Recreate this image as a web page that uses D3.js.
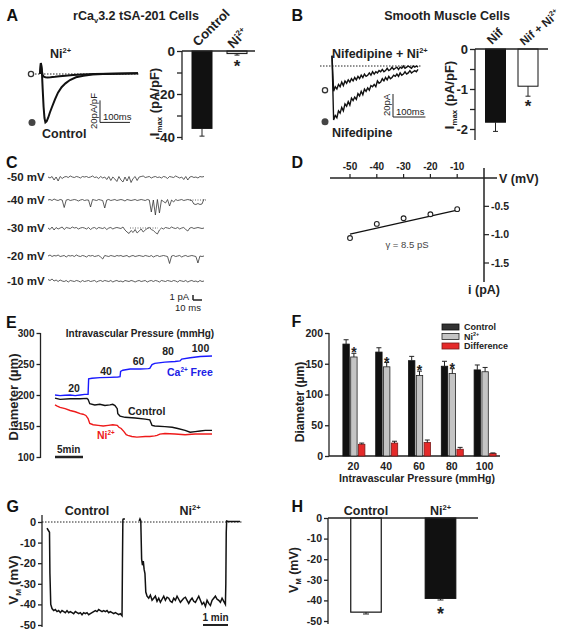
<!DOCTYPE html>
<html><head><meta charset="utf-8">
<script src="https://cdn.jsdelivr.net/npm/d3@7"></script>
<style>
body{margin:0;background:#fff}
svg{display:block}
text{font-family:"Liberation Sans",Arial,Helvetica,sans-serif}
</style>
</head><body>
<svg id="c" width="562" height="635"></svg>
<script>
// ---------------- DATA ----------------
// A: rCav3.2 whole-cell currents (ms, pA/pF) and Imax bars
const aCats = ["Control", "Ni"];
const aImax = [-36, -1.2];
const aImaxErr = [3.6, 0.7];
const aCtrlT = [0, 3, 6, 9, 12, 15, 18, 22, 27, 33, 40, 50, 60, 72, 85, 100, 120, 145, 175, 210, 250, 290, 327];
const aCtrlI = [0, 10, 4, -14, -30, -40, -44, -43, -40, -35, -30, -23, -17, -12, -8.5, -5.5, -3, -1.5, -0.5, 0, 0.3, 0.5, 0.6];
const aNiT = [0, 3, 6, 9, 13, 18, 25, 35, 50, 65, 85, 110, 140, 180, 230, 280, 327];
const aNiI = [0, 10, 3, -1, -2.5, -3, -3.2, -3, -2.6, -2.1, -1.5, -1, -0.5, 0, 0.3, 0.5, 0.6];

// B: smooth muscle currents (pA, one sample every 5 ms) and Imax bars
const bCats = ["Nif", "NifNi"];
const bImax = [-1.83, -0.93];
const bImaxErr = [0.23, 0.25];
const bSampleMs = 5;
const bNif = [9, -47, -43, -45, -39, -41, -36, -39, -33, -35, -31, -34, -28, -30, -27, -29, -24, -26, -22, -25, -20, -22, -19, -21, -17, -18, -16, -18, -13, -15, -14, -11, -13, -10, -12, -9, -11, -10, -8, -9, -7, -9, -6, -8, -7, -5, -7, -6, -4, -6, -5, -4, -5, -3];
const bNifNi = [9, -22, -18, -20, -16, -18, -14, -17, -13, -15, -12, -14, -11, -13, -10, -12, -9, -11, -8, -10, -7, -9, -8, -6, -8, -5, -7, -5, -6, -4, -5, -3, -5, -4, -2, -4, -3, -1, -3, -2, -1, -3, -1, -2, 0, -2, -1, 0, -1, -2, 0, -1, 0, -1];

// C: single-channel traces (pA), one sample per step
const cLabels = ["-50 mV", "-40 mV", "-30 mV", "-20 mV", "-10 mV"];
const cTraces = [
  [0,-0.2,0.1,-0.6,0,-0.8,0.1,-0.3,0,0.1,-0.1,0.2,0,-0.1,0.1,0,-0.2,0.1,0,0.1,-0.1,0,0.2,-0.1,0,-0.3,0.1,-0.2,0,-0.5,0.1,-0.7,0,-0.4,-0.9,0.1,-0.6,-1,0,-0.8,0.1,-1.1,-0.3,0.1,-0.7,0,0.1,0.2,-0.1,0,0.1,-0.2,0,0.1,-0.1,0,-0.2,0.1,0,-0.3,0.1,0,-0.1,0.2,0,-0.2,0,-0.5,0.1,-0.6,0,0.1,-0.1,0,-0.2,0.1,0,0.1],
  [0,0.1,-0.1,0.2,0,-0.1,0.1,0,-1.5,0,0.1,-0.1,0,0.1,0,-0.2,0,0.1,-0.1,0,0,-1.4,0.1,0,-0.1,0.1,0,-0.1,-1.6,0,0.1,-0.1,0,0.1,-0.1,0,0.1,0,-0.2,0.1,0,-0.1,0,0.1,-0.1,0,0.1,0,-0.1,0.1,0,-2.4,0,-3,0.1,-2.6,0,-0.3,-0.6,0.1,-1.2,0,-0.4,0.1,-0.1,0,0.1,-0.1,0,0.1,0,-0.1,-0.8,-0.9,-0.7,-0.9,-0.8,0.2],
  [0,-0.3,0.2,-0.4,0.1,-0.2,0,0.2,-0.3,0.1,0,-0.1,0.2,0,0.1,-0.2,0,0.1,0,-0.2,0.1,-0.3,0,0.1,-0.2,0.1,0,-0.1,0.1,-0.3,0,0.1,-0.2,0,0.1,0,-0.1,0.2,-0.4,-0.8,-1.1,-0.5,-0.9,-0.3,-1,-0.6,-0.2,-0.8,-0.4,-0.1,0.1,-0.3,-0.5,-0.9,-1.2,-0.4,0,-0.2,0.1,0,-0.1,0.2,0,-0.1,0.1,-0.2,0,0.1,-0.3,-0.6,0,0.1,-0.1,0,0.1,0,-0.1,0],
  [0,0.2,-0.1,0.1,0,0.2,-0.1,0,0.1,-0.2,0.1,0,0.1,-0.1,0.2,0,-0.1,0.1,0,-0.2,0.1,0,0.1,-0.1,0,0.1,-0.2,-0.6,0.1,0,-0.1,0.1,0,-0.1,0.1,0,0.1,-0.1,0,0.1,-0.2,0,0.1,-0.1,0,0.1,0,-0.1,0.1,0,-0.1,0.1,-0.2,0,0.1,-0.1,0,0.1,0,-0.1,-1.5,0,0.1,-0.1,0,0.1,-0.2,0,0.1,-0.1,0,0.1,0,-0.1,-1.4,0,-0.1,0],
  [0.3,0.1,0.4,0,0.2,-0.1,0.2,0,-0.1,0.1,-0.2,0.1,0,-0.1,0.1,0,-0.2,0.1,-0.1,0,0.1,-0.1,0,0.1,-0.2,0,0.1,-0.1,0.1,0,-0.1,0.1,-0.2,0,0.1,-0.1,0,-0.2,0.1,0,-0.1,0.1,0,-0.2,0,0.1,-0.1,0,0.1,-0.2,0,0.1,-0.1,0.1,0,-0.2,0.1,0,-0.1,0.1,0,-0.1,0.1,0,-0.2,0.1,0,-0.1,0.1,-0.2,0,0.1,-0.1,0,-0.2,0.1,-0.1,0]
];

// D: unitary current-voltage
const dTicksV = [-50, -40, -30, -20, -10];
const dTicksI = [-0.5, -1.0, -1.5];
const dV = [-50, -40, -30, -20, -10];
const dI = [-1.06, -0.81, -0.71, -0.64, -0.55];
const dFitV = [-50, -10];
const dFitI = [-0.99, -0.565];

// E: diameter vs time (min, µm)
const eTicks = [100, 150, 200, 250, 300];
const ePressLabels = ["20", "40", "60", "80", "100"];
const eCaT = [0,0.9,1.8,2.7,3.6,4.5,5.3,5.9,6.0,6.6,8.0,9.8,11.2,11.6,11.7,12.1,13.4,15.2,16.6,16.9,17.3,17.8,19.6,21.4,22.3,22.6,24.1,25.9,28];
const eCaD = [200,199,199.5,200,199,200,201,201,226,227,228,228.5,229,229.5,238,240,242,242,242.5,243,249,251,253,254,255,258,260,262,263];
const eCtrlT = [0,0.9,2.7,4.5,5.7,5.9,6.2,7.1,8.0,8.9,9.8,10.3,10.7,11.1,11.2,11.6,12.5,14.3,16.1,16.9,17.3,17.8,19.6,20.9,21.9,23.2,24.1,25.0,25.9,26.8,28];
const eCtrlD = [195,193,194,194,194.5,193,186,184,185,183,184,185,183,178,170,166,164,163,161,160,151,150,149,148,146,143,140,141,142,143,143];
const eNiT = [0,0.4,0.9,1.8,2.7,3.6,4.5,5.0,5.5,5.9,6.2,6.8,7.7,8.6,9.5,10.3,11.1,11.4,11.8,12.3,12.7,13.0,13.7,14.6,16.1,16.9,17.8,18.2,18.7,19.6,21.4,23.2,25.0,26.8,28];
const eNiD = [184,182,180,178,175,173,170,169,167,162,154,152,151,150,151,152,151,148,146,141,136,135,133,132,133,133,134,135,137,138,137,136,137,137,137];

// F: diameter bars
const fPress = ["20", "40", "60", "80", "100"];
const fTicks = [0, 50, 100, 150, 200];
const fCtrl = [182, 169, 155, 146, 140];
const fCtrlErr = [7, 7, 7, 8, 8];
const fNi = [161, 145, 131, 134, 137];
const fNiErr = [6, 7, 7, 8, 7];
const fDiff = [19, 21, 22, 11, 4];
const fDiffErr = [2, 3, 4, 3, 1];
const fSig = [true, true, true, true, false];

// G: membrane potential recordings (s, mV)
const gTicks = [0, -10, -20, -30, -40, -50];
const gSampleSec = 4;
const gCtrlStartT = [12, 15, 18, 19, 21];
const gCtrlStartV = [-3, -4, -5, -25, -40];
const gCtrlPlatT0 = 24;
const gCtrlPlat = [-42,-43,-42.5,-43.5,-43,-44,-43,-43.5,-44,-43,-44,-43.5,-44,-44.5,-43.5,-44,-44.5,-44,-45,-44,-44.5,-44,-45,-44.5,-44,-43.5,-43,-43.5,-42.5,-43,-43.5,-43,-43.5,-43,-44,-43.5,-44,-44.5,-44,-44.5,-45,-44.5,-45.5];
const gCtrlEndT = [193, 194, 195, 199];
const gCtrlEndV = [-20, 1, 1.5, 1.5];
const gNiStartT = [233, 235, 237, 239, 241, 243, 245, 247, 249];
const gNiStartV = [0.5, 1.5, 0.5, -18, -21, -19, -23, -25, -34];
const gNiPlatT0 = 252;
const gNiPlat = [-36,-37,-35.5,-38,-37,-36,-38.5,-37,-39,-37.5,-36,-38,-36.5,-37,-38.5,-39,-37,-38,-36,-37.5,-39,-38,-37,-36.5,-38,-39.5,-38,-37,-38.5,-39,-37.5,-36,-38,-40,-39,-41,-38,-39.5,-40.5,-38,-37,-36,-37.5,-38,-39,-37,-38.5,-40];
const gNiEndT = [441, 442, 443, 447, 475];
const gNiEndV = [-30, -5, 0.5, 0.3, 0.3];

// H: membrane potential bars
const hCats = ["Control", "Ni"];
const hTicks = [0, -10, -20, -30, -40, -50];
const hVm = [-45.7, -39];
const hVmErr = [0.9, 0.8];

// ---------------- DRAWING ----------------
const svg = d3.select("#c");
svg.append("rect").attr("width", 562).attr("height", 635).attr("fill", "#fff");
const INK = "#222";
const FONT = '"Liberation Sans", Arial, Helvetica, sans-serif';

function text(x, y, parts, o = {}) {
  const size = o.size || 12;
  const t = svg.append("text").attr("x", x).attr("y", y)
    .attr("font-size", size).attr("font-weight", o.weight || "bold")
    .attr("text-anchor", o.anchor || "start").attr("fill", o.fill || INK);
  if (o.rotate !== undefined) t.attr("transform", `rotate(${o.rotate},${x},${y})`);
  if (typeof parts === "string") parts = [[parts]];
  parts.forEach(([s, k]) => {
    const ts = t.append("tspan").text(s);
    if (k === "sup") ts.attr("font-size", size * 0.6).attr("baseline-shift", (size * 0.42) + "px");
    if (k === "sub") ts.attr("font-size", size * 0.6).attr("baseline-shift", (-size * 0.2) + "px");
  });
  return t;
}
function line(x1, y1, x2, y2, o = {}) {
  const l = svg.append("line").attr("x1", x1).attr("y1", y1).attr("x2", x2).attr("y2", y2)
    .attr("stroke", o.stroke || INK).attr("stroke-width", o.w || 1.3);
  if (o.dash) l.attr("stroke-dasharray", o.dash);
  return l;
}
function yAxis(x, scale, ticks, labeled, y0, y1, size, tick = 4) {
  const g = svg.append("g").attr("transform", `translate(${x},0)`)
    .call(d3.axisLeft(scale).tickValues(ticks).tickSize(tick).tickSizeOuter(0).tickPadding(2)
      .tickFormat(d => labeled.includes(d) ? String(d) : ""));
  g.select(".domain").remove();
  g.selectAll("line").attr("stroke", INK).attr("stroke-width", 1.3);
  g.selectAll("text").attr("font-size", size).attr("font-weight", "bold")
    .attr("font-family", FONT).attr("fill", INK);
  line(x, y0, x, y1);
}
function errBar(x, yFrom, yTo, cap = 3) {
  line(x, yFrom, x, yTo, { w: 1 });
  line(x - cap, yTo, x + cap, yTo, { w: 1 });
}
const pathLine = (xs, ys) => d3.line().x((d, i) => xs[i]).y((d, i) => ys[i])(xs);

// Panel letters
[["A", 6.5, 20.5], ["B", 291.5, 20.5], ["C", 6, 167.5], ["D", 291.5, 167.5],
 ["E", 6, 327.5], ["F", 291.5, 327], ["G", 6.5, 512], ["H", 291.5, 512]]
  .forEach(([s, x, y]) => text(x, y, s, { size: 16, fill: "#111" }));

// ===== Panel A =====
text(136, 20, [["rCa"], ["v", "sub"], ["3.2 tSA-201 Cells"]], { size: 12.5, anchor: "middle" });
{
  const xT = d3.scaleLinear().domain([0, 327]).range([40, 138]);
  const yT = d3.scaleLinear().domain([0, -20]).range([74, 96]);
  line(35, yT(0), 140, yT(0), { w: 1, dash: "1.5,1.5" });
  svg.append("path").attr("d", pathLine(aNiT.map(xT), aNiI.map(yT))).attr("fill", "none").attr("stroke", "#111").attr("stroke-width", 2);
  svg.append("path").attr("d", pathLine(aCtrlT.map(xT), aCtrlI.map(yT))).attr("fill", "none").attr("stroke", "#111").attr("stroke-width", 2);
  svg.append("circle").attr("cx", 31).attr("cy", yT(0)).attr("r", 2.6).attr("fill", "#fff").attr("stroke", "#333").attr("stroke-width", 1.3);
  svg.append("circle").attr("cx", 32).attr("cy", yT(-44)).attr("r", 3.5).attr("fill", "#444");
  text(50, 58, [["Ni"], ["2+", "sup"]], { size: 12.5 });
  text(42, 138, "Control", { size: 12.5 });
  // scale bar 20 pA/pF, 100 ms
  const sbY = yT(-44);
  line(100, sbY - (yT(-20) - yT(0)), 100, sbY, { w: 1 });
  line(100, sbY, 100 + (xT(100) - xT(0)), sbY, { w: 1 });
  text(97, 111, "20pA/pF", { size: 9.5, weight: "normal", anchor: "middle", rotate: -90 });
  text(103, 120, "100ms", { size: 9.5, weight: "normal" });

  const yA = d3.scaleLinear().domain([0, -40]).range([51, 137]);
  const xA = d3.scalePoint().domain(aCats).range([202, 237]);
  yAxis(182, yA, [0, -10, -20, -30, -40], [0, -20, -40], 51, 140, 13.5, 5);
  const bw = 20;
  aCats.forEach((c, i) => {
    const x = xA(c);
    svg.append("rect").attr("x", x - bw / 2).attr("y", yA(0)).attr("width", bw)
      .attr("height", yA(aImax[i]) - yA(0))
      .attr("fill", i === 0 ? "#111" : "#ddd").attr("stroke", "#111").attr("stroke-width", 1);
    errBar(x, yA(aImax[i]), yA(aImax[i] - aImaxErr[i]), 2.5);
  });
  line(182, yA(0), 255, yA(0));
  text(xA("Control") - 4, 47, "Control", { size: 13, rotate: -45 });
  text(xA("Ni") - 4, 49, [["Ni"], ["2+", "sup"]], { size: 13, rotate: -45 });
  text(xA("Ni"), 72, "*", { size: 17, anchor: "middle" });
  text(159, 102, [["I"], ["max", "sub"], [" (pA/pF)"]], { size: 13, anchor: "middle", rotate: -90 });
}

// ===== Panel B =====
text(447, 20, "Smooth Muscle Cells", { size: 12.5, anchor: "middle" });
{
  const xT = d3.scaleLinear().domain([0, 265]).range([332, 418]);
  const yT = d3.scaleLinear().domain([0, -20]).range([66, 89]);
  const ts = bNif.map((d, i) => i * bSampleMs);
  line(320, yT(0), 422, yT(0), { w: 1, dash: "1.5,1.5" });
  svg.append("path").attr("d", pathLine(ts.map(xT), bNifNi.map(yT))).attr("fill", "none").attr("stroke", "#111").attr("stroke-width", 1.4);
  svg.append("path").attr("d", pathLine(ts.map(xT), bNif.map(yT))).attr("fill", "none").attr("stroke", "#111").attr("stroke-width", 1.4);
  svg.append("circle").attr("cx", 325).attr("cy", yT(-21)).attr("r", 2.6).attr("fill", "#fff").attr("stroke", "#333").attr("stroke-width", 1.3);
  svg.append("circle").attr("cx", 325).attr("cy", yT(-48.5)).attr("r", 3.5).attr("fill", "#444");
  text(332, 58, [["Nifedipine + Ni"], ["2+", "sup"]], { size: 12.5 });
  text(332, 137, "Nifedipine", { size: 12.5 });
  line(393, 94, 393, 94 + (yT(-20) - yT(0)), { w: 1 });
  line(393, 117, 393 + (xT(100) - xT(0)), 117, { w: 1 });
  text(390, 105, "20pA", { size: 9.5, weight: "normal", anchor: "middle", rotate: -90 });
  text(396, 115, "100ms", { size: 9.5, weight: "normal" });

  const yB = d3.scaleLinear().domain([0, -2]).range([49, 129]);
  const xB = d3.scalePoint().domain(bCats).range([495.5, 528]);
  yAxis(475, yB, [0, -0.5, -1, -1.5, -2], [0, -1, -2], 49, 140, 13, 5);
  const bw = 20;
  bCats.forEach((c, i) => {
    const x = xB(c);
    svg.append("rect").attr("x", x - bw / 2).attr("y", yB(0)).attr("width", bw)
      .attr("height", yB(bImax[i]) - yB(0))
      .attr("fill", i === 0 ? "#111" : "#fff").attr("stroke", "#111").attr("stroke-width", 1);
    errBar(x, yB(bImax[i]), yB(bImax[i] - bImaxErr[i]), 2.5);
  });
  line(475, yB(0), 548, yB(0));
  text(xB("Nif") - 3.5, 45, "Nif", { size: 12.5, rotate: -45 });
  text(xB("NifNi") - 4, 46, [["Nif + Ni"], ["2+", "sup"]], { size: 11.5, rotate: -40 });
  text(xB("NifNi"), 112, "*", { size: 17, anchor: "middle" });
  text(454, 95, [["I"], ["max", "sub"], [" (pA/pF)"]], { size: 13, anchor: "middle", rotate: -90 });
}

// ===== Panel C =====
{
  const base = [177, 200, 228, 256, 281];
  const xC = d3.scaleLinear().domain([0, 77]).range([48, 204]);
  cTraces.forEach((tr, k) => {
    const yC = d3.scaleLinear().domain([0, -1]).range([base[k], base[k] + 5]);
    svg.append("path").attr("d", pathLine(tr.map((d, i) => xC(i)), tr.map(yC)))
      .attr("fill", "none").attr("stroke", "#333").attr("stroke-width", 0.8);
    text(7, base[k] + 4, cLabels[k], { size: 11.5 });
  });
  line(190, 200, 206, 200, { w: 0.7, dash: "1,1.5" });
  line(130, 228, 158, 228, { w: 0.7, dash: "1,1.5" });
  line(193, 295, 193, 300, { w: 1.5 });
  line(193, 300, 202, 300, { w: 1.5 });
  text(189, 300, "1 pA", { size: 9.5, weight: "normal", anchor: "end" });
  text(188, 310.5, "10 ms", { size: 9.5, weight: "normal", anchor: "middle" });
}

// ===== Panel D =====
{
  const xD = d3.scaleLinear().domain([-50, 0]).range([350, 484]);
  const yD = d3.scaleLinear().domain([0, -1.5]).range([178, 263]);
  line(330, yD(0), 497, yD(0), { w: 1.5 });
  line(xD(0), 168, xD(0), 282, { w: 1.5 });
  dTicksV.forEach(v => {
    line(xD(v), yD(0) - 4, xD(v), yD(0), { w: 1.2 });
    text(xD(v), 170, String(v), { size: 10, anchor: "middle" });
  });
  dTicksI.forEach(v => {
    line(xD(0), yD(v), xD(0) + 5, yD(v), { w: 1.2 });
    text(xD(0) + 7, yD(v) + 3.8, v.toFixed(1), { size: 10.5 });
  });
  text(499, 183, "V (mV)", { size: 12.5 });
  text(xD(0), 294, "i (pA)", { size: 12.5, anchor: "middle" });
  svg.append("path").attr("d", pathLine(dFitV.map(xD), dFitI.map(yD))).attr("stroke", "#111").attr("stroke-width", 1.3).attr("fill", "none");
  dV.forEach((v, i) => svg.append("circle").attr("cx", xD(v)).attr("cy", yD(dI[i])).attr("r", 2.4)
    .attr("fill", "#fff").attr("stroke", "#222").attr("stroke-width", 1.1));
  text(407, 248, "γ = 8.5 pS", { size: 9.5, weight: "normal", anchor: "middle", fill: "#444" });
}

// ===== Panel E =====
{
  const xE = d3.scaleLinear().domain([0, 28]).range([55, 212]);
  const yE = d3.scaleLinear().domain([100, 300]).range([457, 333]);
  yAxis(40.5, yE, eTicks, eTicks, 333, 458, 10, 4);
  text(140, 337, "Intravascular Pressure (mmHg)", { size: 10, anchor: "middle" });
  text(17.5, 397, "Diameter (µm)", { size: 13, anchor: "middle", rotate: -90 });
  svg.append("path").attr("d", pathLine(eNiT.map(xE), eNiD.map(yE))).attr("fill", "none").attr("stroke", "#ee1a1a").attr("stroke-width", 1.4);
  svg.append("path").attr("d", pathLine(eCtrlT.map(xE), eCtrlD.map(yE))).attr("fill", "none").attr("stroke", "#111").attr("stroke-width", 1.4);
  svg.append("path").attr("d", pathLine(eCaT.map(xE), eCaD.map(yE))).attr("fill", "none").attr("stroke", "#1a1aff").attr("stroke-width", 1.4);
  const pl = [[74, 392], [106, 375], [138.5, 365], [168, 355], [200.5, 352]];
  ePressLabels.forEach((s, i) => text(pl[i][0], pl[i][1], s, { size: 10.5, anchor: "middle" }));
  text(167, 376, [["Ca"], ["2+", "sup"], [" Free"]], { size: 10.5, fill: "#2020e6" });
  text(128, 415, "Control", { size: 10.5 });
  text(97, 439, [["Ni"], ["2+", "sup"]], { size: 10.5, fill: "#ee1a1a" });
  line(55, 457, 83, 457, { w: 2.5 });
  text(57, 453, "5min", { size: 10 });
}

// ===== Panel F =====
{
  const yF = d3.scaleLinear().domain([0, 200]).range([456, 333]);
  const xF = d3.scaleBand().domain(fPress).range([337, 501]);
  const xIn = d3.scaleBand().domain(["c", "n", "d"]).range([-10.5, 11.5]).paddingInner(0.18);
  const bw = xIn.bandwidth();
  yAxis(329, yF, fTicks, fTicks, 333, 456, 10.5, 4);
  line(329, 456, 500, 456);
  const series = [
    { k: "c", v: fCtrl, e: fCtrlErr, fill: "#111", stroke: "#111" },
    { k: "n", v: fNi, e: fNiErr, fill: "#c4c4c4", stroke: "#222" },
    { k: "d", v: fDiff, e: fDiffErr, fill: "#e52a2a", stroke: "#7a1a1a" }
  ];
  fPress.forEach((p, i) => {
    const cx = xF(p) + xF.bandwidth() / 2;
    series.forEach(s => {
      const x = cx + xIn(s.k);
      svg.append("rect").attr("x", x).attr("y", yF(s.v[i])).attr("width", bw)
        .attr("height", yF(0) - yF(s.v[i])).attr("fill", s.fill).attr("stroke", s.stroke).attr("stroke-width", 0.8);
      errBar(x + bw / 2, yF(s.v[i]), yF(s.v[i] + s.e[i]), 2.5);
    });
    if (fSig[i]) text(cx + xIn("n") + bw / 2, yF(fNi[i] + fNiErr[i]) + 4, "*", { size: 14, anchor: "middle" });
    text(cx, 470, p, { size: 10.5, anchor: "middle" });
  });
  text(417, 482, "Intravascular Pressure (mmHg)", { size: 10.5, anchor: "middle" });
  text(304, 402, "Diameter (µm)", { size: 12, anchor: "middle", rotate: -90 });
  const leg = [["Control", "#333", "#111"], ["Ni", "#c4c4c4", "#222"], ["Difference", "#e52a2a", "#7a1a1a"]];
  leg.forEach(([s, f, st], i) => {
    const y = 324 + i * 9.5;
    svg.append("rect").attr("x", 442).attr("y", y).attr("width", 17).attr("height", 6).attr("fill", f).attr("stroke", st).attr("stroke-width", 0.8);
    if (s === "Ni") text(464, y + 6, [["Ni"], ["2+", "sup"]], { size: 9 });
    else text(464, y + 6, s, { size: 9 });
  });
}

// ===== Panel G =====
{
  const xG = d3.scaleLinear().domain([0, 475]).range([42, 240]);
  const yG = d3.scaleLinear().domain([0, -50]).range([522, 625]);
  yAxis(42, yG, gTicks, gTicks, 515, 627, 11, 4);
  line(42, yG(0), 243, yG(0), { w: 1, dash: "1.5,1.5" });
  const cT = gCtrlStartT.concat(gCtrlPlat.map((d, i) => gCtrlPlatT0 + i * gSampleSec), gCtrlEndT);
  const cV = gCtrlStartV.concat(gCtrlPlat, gCtrlEndV);
  const nT = gNiStartT.concat(gNiPlat.map((d, i) => gNiPlatT0 + i * gSampleSec), gNiEndT);
  const nV = gNiStartV.concat(gNiPlat, gNiEndV);
  svg.append("path").attr("d", pathLine(cT.map(xG), cV.map(yG))).attr("fill", "none").attr("stroke", "#111").attr("stroke-width", 1.5);
  svg.append("path").attr("d", pathLine(nT.map(xG), nV.map(yG))).attr("fill", "none").attr("stroke", "#111").attr("stroke-width", 1.5);
  text(87, 515, "Control", { size: 12.5, anchor: "middle" });
  text(190, 515, [["Ni"], ["2+", "sup"]], { size: 12.5, anchor: "middle" });
  line(203, 625, 228, 625, { w: 2 });
  text(215.5, 621, "1 min", { size: 10, anchor: "middle" });
  text(18, 580, [["V"], ["M", "sub"], [" (mV)"]], { size: 13.5, anchor: "middle", rotate: -90 });
}

// ===== Panel H =====
{
  const yH = d3.scaleLinear().domain([0, -50]).range([518, 621]);
  const xH = d3.scalePoint().domain(hCats).range([366, 440.5]);
  yAxis(328, yH, hTicks, hTicks, 518, 624, 10.5, 4);
  const bw = 30.5;
  hCats.forEach((c, i) => {
    const x = xH(c);
    svg.append("rect").attr("x", x - bw / 2).attr("y", yH(0)).attr("width", bw)
      .attr("height", yH(hVm[i]) - yH(0))
      .attr("fill", i === 0 ? "#fff" : "#111").attr("stroke", "#111").attr("stroke-width", 1.2);
    errBar(x, yH(hVm[i]), yH(hVm[i] - hVmErr[i]), 3);
  });
  line(328, yH(0), 478, yH(0));
  text(xH("Control"), 515, "Control", { size: 12.5, anchor: "middle" });
  text(xH("Ni"), 515, [["Ni"], ["2+", "sup"]], { size: 12.5, anchor: "middle" });
  text(xH("Ni"), 620, "*", { size: 18, anchor: "middle" });
  text(298, 570, [["V"], ["M", "sub"], [" (mV)"]], { size: 12.5, anchor: "middle", rotate: -90 });
}
</script>
</body></html>
